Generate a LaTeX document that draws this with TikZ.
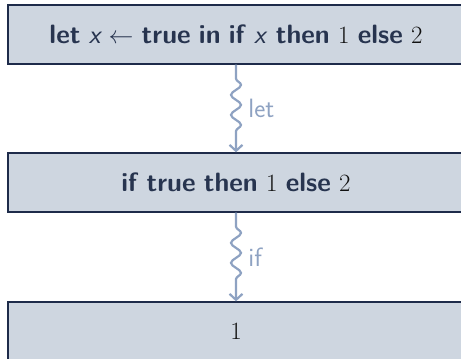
\documentclass[tikz,border=0pt]{standalone}
\usepackage{fontspec}
\usetikzlibrary{decorations.pathmorphing,arrows.meta}
\definecolor{boxfill}{HTML}{CED6E0}
\definecolor{boxline}{HTML}{1E2B4A}
\definecolor{boxtext}{HTML}{27344F}
\definecolor{digit}{HTML}{111111}
\definecolor{steparrow}{HTML}{8EA2C2}
\newcommand{\kw}[1]{\textbf{#1}}
\newcommand{\vx}{{\normalfont\sffamily\slshape x}}
\newcommand{\dg}[1]{{\color{digit}\fontsize{33}{34}\selectfont$#1$}}
\tikzset{
  termbox/.style={draw=boxline, line width=1.3pt, fill=boxfill, minimum width=456pt, minimum height=59pt, inner sep=0pt, text=boxtext, font=\sffamily\fontsize{26.5}{30}\selectfont},
  redarrow/.style={draw=steparrow, line width=2.2pt, decorate, decoration={snake, amplitude=5pt, segment length=20pt, pre length=14pt, post length=14pt}, -{Straight Barb[length=6pt,width=13pt]}},
  redlabel/.style={text=steparrow, font=\sffamily\fontsize{26.5}{30}\selectfont, anchor=west}
}
\begin{document}
\begin{tikzpicture}[x=1pt,y=1pt]
\useasboundingbox (0,0) rectangle (461,-359);
\clip (0,0) rectangle (461,-359);
\node[termbox] (t1) at (236,-34.5) {\kw{let} \vx{} $\leftarrow$ \kw{true} \kw{in} \kw{if} \vx{} \kw{then} \dg{1} \kw{else} \dg{2}};
\node[termbox] (t2) at (236,-182.5) {\kw{if} \kw{true} \kw{then} \dg{1} \kw{else} \dg{2}};
\node[termbox] (t3) at (236,-331.5) {\dg{1}};
\draw[redarrow] (t1.south) -- (t2.north) node[redlabel, midway, xshift=8pt] (l1) {let};
\draw[redarrow] (t2.south) -- (t3.north) node[redlabel, midway, xshift=8pt] (l2) {if};
\end{tikzpicture}
\end{document}
